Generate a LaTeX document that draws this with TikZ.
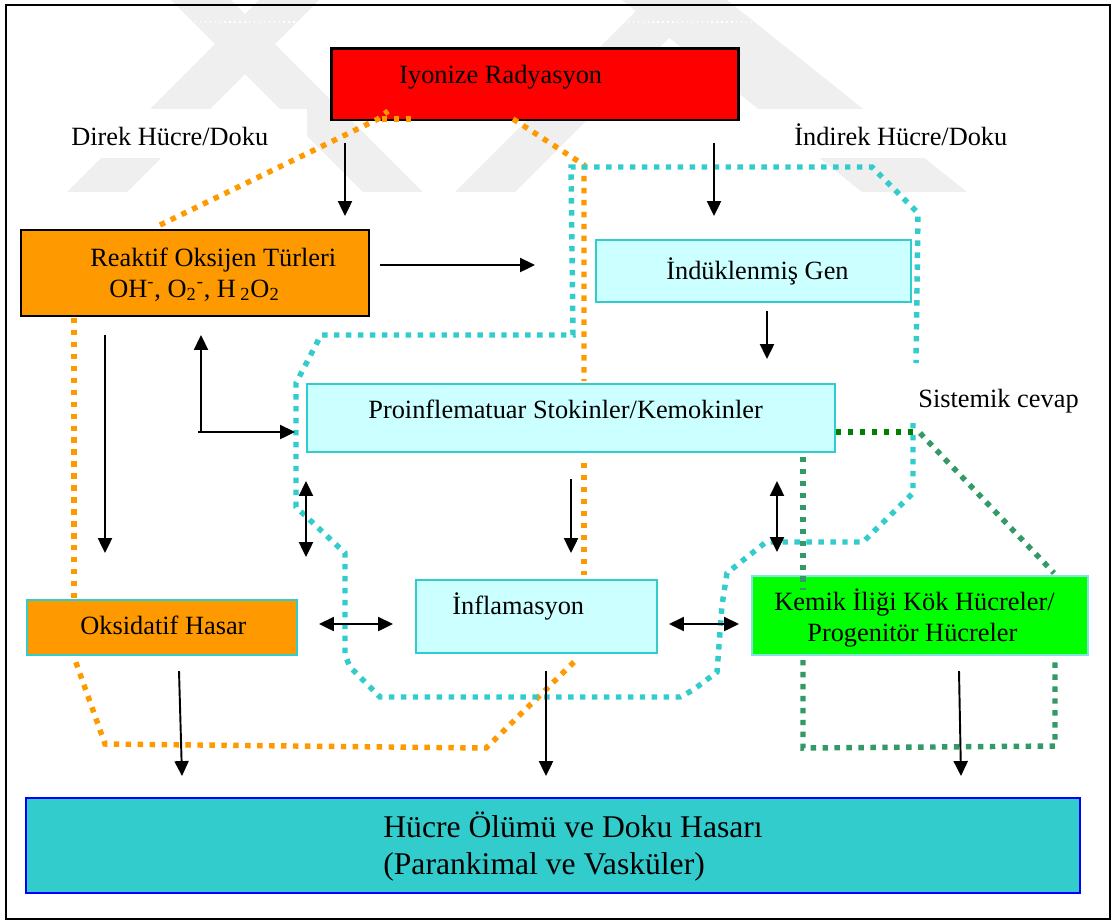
\documentclass[tikz,border=0pt]{standalone}
\usepackage{fontspec}
\setmainfont{Liberation Serif}
\usetikzlibrary{arrows.meta}
\definecolor{roso}{HTML}{FF9900}
\definecolor{lcyan}{HTML}{CCFFFF}
\definecolor{turq}{HTML}{33CCCC}
\definecolor{dgreen}{HTML}{008000}
\definecolor{sgreen}{HTML}{339966}
\definecolor{wmgray}{HTML}{EFEFEF}
\tikzset{
  box/.style={draw, line width=1.2pt, inner sep=0pt, rectangle},
  txt/.style={anchor=base west, inner sep=0pt, font=\fontsize{15}{18}\selectfont},
  arr/.style={line width=1.1pt, -{Triangle[length=8.5pt,width=8pt]}},
  darr/.style={line width=1.1pt, {Triangle[length=8.5pt,width=8pt]}-{Triangle[length=8.5pt,width=8pt]}},
  dots/.style={line width=3.1pt, dash pattern=on 3.1pt off 3.7pt}
}
\begin{document}
\begin{tikzpicture}[x=0.02cm,y=-0.02cm]
\useasboundingbox (0,0) rectangle (1114,921);
% watermark
\fill[wmgray] (67,192) -- (127,192) -- (319,0) -- (259,0) -- cycle;
\fill[wmgray] (171,0) -- (231,0) -- (423,192) -- (363,192) -- cycle;
\fill[wmgray] (455,192) -- (515,192) -- (707,0) -- (647,0) -- cycle;
\fill[wmgray] (622,0) -- (727,0) -- (967,192) -- (862,192) -- cycle;
\fill[white] (68,109) rectangle (307,158);
\fill[white] (752,109) rectangle (965,158);
\draw[white, line width=0.8pt, dotted] (190,22) -- (880,22);
% frame
\draw[line width=1.6pt] (6,5) rectangle (1110,919);
% boxes
\node[box, fill=red, line width=1.7pt, minimum width=8.16cm, minimum height=1.44cm] (ir) at (535,84) {};
\node[box, fill=roso, minimum width=6.96cm, minimum height=1.72cm] (ros) at (195,273) {};
\node[box, draw=turq, fill=lcyan, minimum width=6.30cm, minimum height=1.24cm] (gen) at (753.5,271) {};
\node[box, draw=turq, fill=lcyan, minimum width=10.56cm, minimum height=1.36cm] (pro) at (571,418) {};
\node[box, draw=turq, fill=roso, minimum width=5.4cm, minimum height=1.1cm] (oks) at (162,627.5) {};
\node[box, draw=turq, fill=lcyan, minimum width=4.82cm, minimum height=1.46cm] (inf) at (536.5,616.5) {};
\node[box, draw=turq!60, fill=green, minimum width=6.72cm, minimum height=1.58cm] (kem) at (920,615.5) {};
\node[box, draw=blue, fill=turq, minimum width=21.08cm, minimum height=1.9cm] (hd) at (553,845.5) {};
% texts
\node[txt] (tir) at (399,83) {Iyonize Radyasyon};
\node[txt] (tdir) at (71,145) {Direk Hücre/Doku};
\node[txt] (tind) at (794,145) {İndirek Hücre/Doku};
\node[txt] (tros1) at (90,266) {Reaktif Oksijen Türleri};
\node[txt] (tros2) at (109,297) {OH\textsuperscript{-}, O\textsubscript{2}\textsuperscript{-}, H\,\textsubscript{2}O\textsubscript{2}};
\node[txt] (tgen) at (666,279) {İndüklenmiş Gen};
\node[txt] (tpro) at (368,418) {Proinflematuar Stokinler/Kemokinler};
\node[txt] (tsis) at (918,407) {Sistemik cevap};
\node[txt] (tinf) at (452,614) {İnflamasyon};
\node[txt] (toks) at (80,634) {Oksidatif Hasar};
\node[txt] (tkem1) at (774,610) {Kemik İliği Kök Hücreler/};
\node[txt] (tkem2) at (807,641) {Progenitör Hücreler};
\node[txt, font=\fontsize{18}{22}\selectfont] (thd1) at (383,837) {Hücre Ölümü ve Doku Hasarı};
\node[txt, font=\fontsize{18}{22}\selectfont] (thd2) at (383,874) {(Parankimal ve Vasküler)};
% dotted paths
\draw[dots, roso] (160,225) -- (378,119) -- (388,111);
\draw[dots, roso] (382,119) -- (417,119);
\draw[dots, roso] (513,119) -- (584,165) -- (584,381);
\draw[dots, roso] (584,463) -- (584,575);
\draw[dots, roso] (574,662) -- (486,748) -- (105,744) -- (74,657);
\draw[dots, roso] (74,318) -- (74,598);
\draw[dots, turq] (913,423) -- (913,493) -- (863,542) -- (766,542) -- (727,573) -- (722,605) -- (717,672) -- (693,690) -- (680,697) -- (380,697) -- (350,667) -- (345,655) -- (345,553) -- (296,507) -- (296,383) -- (321,335) -- (573,335) -- (571,167) -- (872,167) -- (918,213) -- (916,363);
\draw[dots, dgreen] (836,432) -- (913,432);
\draw[dots, sgreen] (920,433) -- (1054,573);
\draw[dots, sgreen] (803,457) -- (803,590);
\draw[dots, sgreen] (803,660) -- (803,748) -- (1055,746) -- (1055,660);
% arrows
\coordinate (a1s) at (345,143); \coordinate (a1e) at (345,216);
\coordinate (a2s) at (380,265); \coordinate (a2e) at (535,265);
\coordinate (a3s) at (714,143); \coordinate (a3e) at (714,216);
\coordinate (a4s) at (767,311); \coordinate (a4e) at (767,359);
\coordinate (a5s) at (105,335); \coordinate (a5e) at (105,553);
\coordinate (a6c) at (201,432); \coordinate (a6u) at (201,335); \coordinate (a6r) at (295,432);
\coordinate (a7s) at (306,481); \coordinate (a7e) at (306,557);
\coordinate (a8s) at (571,479); \coordinate (a8e) at (571,553);
\coordinate (a9s) at (777,481); \coordinate (a9e) at (777,552);
\coordinate (a10s) at (319,624); \coordinate (a10e) at (393,624);
\coordinate (a11s) at (669,624); \coordinate (a11e) at (739,624);
\coordinate (a12s) at (179,671); \coordinate (a12e) at (182,776);
\coordinate (a13s) at (546,671); \coordinate (a13e) at (546,776);
\coordinate (a14s) at (959,671); \coordinate (a14e) at (961,776);
\draw[arr] (a1s) -- (a1e);
\draw[arr] (a2s) -- (a2e);
\draw[arr] (a3s) -- (a3e);
\draw[arr] (a4s) -- (a4e);
\draw[arr] (a5s) -- (a5e);
\draw[arr] (a6c) -- (a6u);
\draw[arr] ([xshift=-0.06cm]a6c) -- (a6r);
\draw[darr] (a7s) -- (a7e);
\draw[arr] (a8s) -- (a8e);
\draw[darr] (a9s) -- (a9e);
\draw[darr] (a10s) -- (a10e);
\draw[darr] (a11s) -- (a11e);
\draw[arr] (a12s) -- (a12e);
\draw[arr] (a13s) -- (a13e);
\draw[arr] (a14s) -- (a14e);
\end{tikzpicture}
\end{document}
